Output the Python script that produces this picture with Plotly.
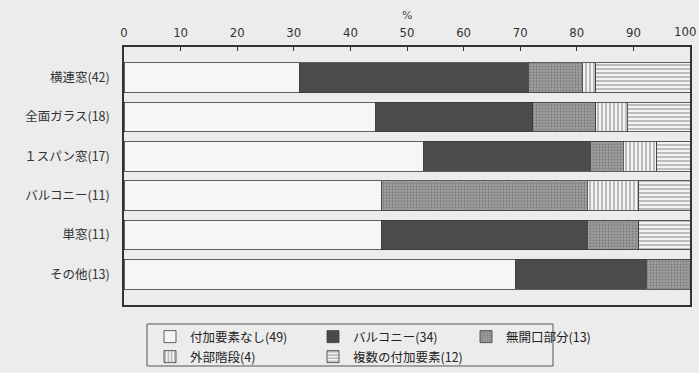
import plotly.graph_objects as go

# Window types (rows, top to bottom) and the number of buildings in each
categories = ["横連窓(42)", "全面ガラス(18)", "１スパン窓(17)", "バルコニー(11)", "単窓(11)", "その他(13)"]
row_totals = [42, 18, 17, 11, 11, 13]

# Counts per additional-element type for each window type
none_counts = [13, 8, 9, 5, 5, 9]        # 付加要素なし
balcony_counts = [17, 5, 5, 0, 4, 3]     # バルコニー
solid_counts = [4, 2, 1, 4, 1, 1]        # 無開口部分
stair_counts = [1, 1, 1, 1, 0, 0]        # 外部階段
multi_counts = [7, 2, 1, 1, 1, 0]        # 複数の付加要素

series_names = ["付加要素なし(49)", "バルコニー(34)", "無開口部分(13)", "外部階段(4)", "複数の付加要素(12)"]
x_ticks = [0, 10, 20, 30, 40, 50, 60, 70, 80, 90, 100]
# the last label is drawn separately, right-aligned to the page edge
x_tick_text = [str(v) for v in x_ticks[:-1]] + [""]
last_tick_label = str(x_ticks[-1])

W, H = 699, 373
L, R, T, B = 124, 9, 47, 68
pw, ph = W - L - R, H - T - B

def px_x(p):
    return (p - L) / pw

def px_y(p):
    return (H - B - p) / ph

def pct(counts):
    return [100.0 * c / n for c, n in zip(counts, row_totals)]

ypos = list(range(len(categories)))
BG = "#ececec"
INK = "#333333"
JP = "Noto Sans CJK JP"
NUM_FONT = dict(family="Liberation Sans Narrow, Arial Narrow, DejaVu Sans Condensed", size=13, color="#333333")

styles = [
    dict(color="#f6f6f6", pattern=None),
    dict(color="#4b4b4b", pattern=None),
    dict(color="#a4a4a4", pattern=dict(shape=".", fgcolor="#555555", bgcolor="#a4a4a4", size=3, solidity=0.45)),
    dict(color="#f2f2f2", pattern=dict(shape="|", fgcolor="#555555", bgcolor="#f2f2f2", size=4, solidity=0.35)),
    dict(color="#f2f2f2", pattern=dict(shape="-", fgcolor="#555555", bgcolor="#f2f2f2", size=4, solidity=0.35)),
]

all_counts = [none_counts, balcony_counts, solid_counts, stair_counts, multi_counts]
legend_ids = ["legend", "legend2", "legend3", "legend4", "legend5"]

fig = go.Figure()
for name, counts, st, lg in zip(series_names, all_counts, styles, legend_ids):
    marker = dict(color=st["color"], line=dict(color="#3a3a3a", width=0.8))
    if st["pattern"] is not None:
        marker["pattern"] = st["pattern"]
    fig.add_trace(go.Bar(
        x=pct(counts), y=ypos, orientation="h", name=name,
        marker=marker, width=0.76, legend=lg,
    ))

# Legend entries: two rows inside one framed box below the chart
legend_slots = [(150, 337), (313, 337), (466, 337), (150, 357), (313, 357)]
legend_layout = {}
for lg, (lx, ly) in zip(legend_ids, legend_slots):
    legend_layout[lg] = dict(
        x=px_x(lx), y=px_y(ly), xanchor="left", yanchor="middle",
        bgcolor="rgba(0,0,0,0)", borderwidth=0,
        font=dict(family=JP, size=12.5, color="#222222"),
        itemwidth=30,
    )

fig.update_layout(
    width=W, height=H,
    margin=dict(l=L, r=R, t=T, b=B, autoexpand=False),
    paper_bgcolor=BG, plot_bgcolor=BG,
    barmode="stack", bargap=0.2,
    showlegend=True,
    **legend_layout,
    xaxis=dict(
        side="top", range=[0, 100], tickvals=x_ticks, ticktext=x_tick_text,
        ticks="inside", ticklen=4, tickcolor=INK,
        showgrid=False, zeroline=False,
        showline=True, mirror=True, linecolor=INK, linewidth=1.5,
        tickfont=NUM_FONT,
        ticklabelstandoff=3,
        fixedrange=True,
    ),
    yaxis=dict(
        range=[5.78, -0.78], tickvals=ypos, ticktext=categories,
        ticks="", showgrid=False, zeroline=False,
        showline=True, mirror=True, linecolor=INK, linewidth=1.5,
        tickfont=dict(family=JP, size=12.5, color="#333333"),
        ticklabelstandoff=10,
        fixedrange=True,
    ),
    shapes=[dict(
        type="rect", xref="paper", yref="paper",
        x0=px_x(147), x1=px_x(553), y0=px_y(366), y1=px_y(324),
        line=dict(color="#555555", width=1), fillcolor="rgba(0,0,0,0)",
    )],
    annotations=[
        dict(
            text="%", xref="x", yref="paper", x=50, y=px_y(15), yanchor="middle",
            showarrow=False, font=dict(family="DejaVu Sans", size=11, color="#444444"),
        ),
        dict(
            text=last_tick_label, xref="paper", yref="paper",
            x=px_x(698), y=px_y(32), xanchor="right", yanchor="middle",
            showarrow=False, font=NUM_FONT,
        ),
    ],
)

fig.write_html("out.html")
